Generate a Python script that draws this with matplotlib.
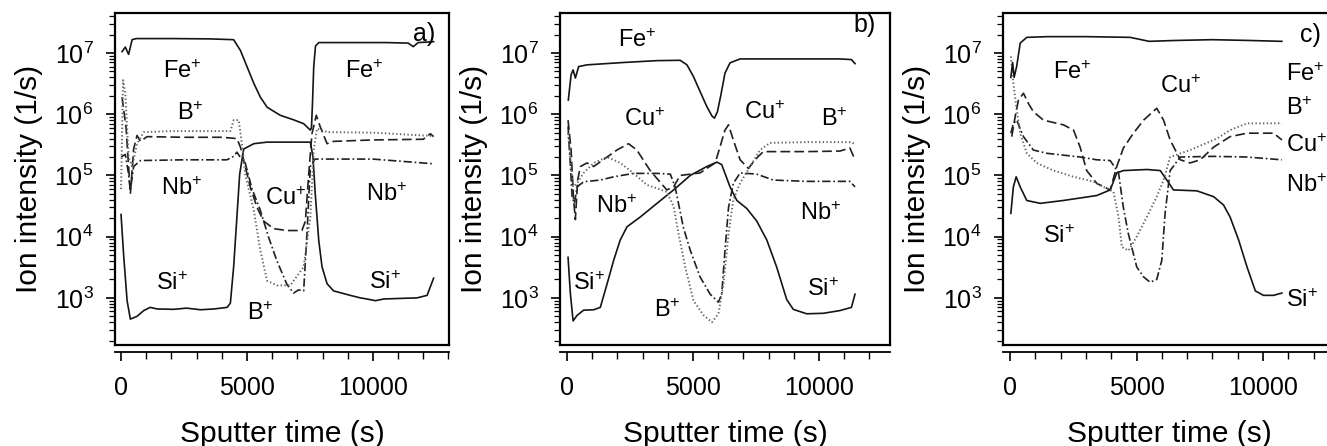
import matplotlib
matplotlib.use("Agg")
import matplotlib.pyplot as plt
from matplotlib.ticker import FixedLocator, MultipleLocator, LogLocator, NullFormatter

plt.rcParams['font.family'] = ['Liberation Sans', 'DejaVu Sans']
plt.rcParams['mathtext.fontset'] = 'custom'
plt.rcParams['mathtext.rm'] = 'Liberation Sans'
plt.rcParams['mathtext.it'] = 'Liberation Sans:italic'
plt.rcParams['mathtext.bf'] = 'Liberation Sans:bold'
plt.rcParams['mathtext.default'] = 'regular'
plt.rcParams['lines.scale_dashes'] = False

# ---- panel a) ----
a_fe_t = [40, 170, 250, 300, 440, 600, 2000, 3500, 4470, 4740, 5000, 5270, 5530, 5800, 6320, 6850, 7250,
          7515, 7560, 7600, 7650, 7720, 7850, 9000, 10500, 11400, 11600, 11800, 12410]
a_fe = [1.05e7, 1.25e7, 1.05e7, 9.5e6, 1.65e7, 1.72e7, 1.72e7, 1.70e7, 1.65e7, 1.1e7, 6e6, 3.2e6, 1.9e6,
        1.3e6, 9.6e5, 8.1e5, 7e5, 5.5e5, 6e5, 1.5e6, 6e6, 1.3e7, 1.48e7, 1.48e7, 1.48e7, 1.45e7, 1.27e7,
        1.48e7, 1.53e7]
a_b_t = [0, 80, 170, 300, 440, 635, 900, 2000, 3500, 4340, 4470, 4670, 4800, 4930, 5270, 5530, 5800, 6190,
         6720, 7250, 7515, 7650, 7780, 8200, 10000, 12410]
a_b = [6e4, 3.6e6, 2.2e6, 2e5, 1.4e5, 3.3e5, 5.1e5, 5.3e5, 5.3e5, 5.3e5, 8e5, 8e5, 3.3e5, 1.05e5, 2.7e4,
       5.9e3, 1.9e3, 1.6e3, 1.6e3, 3.2e3, 2.1e4, 2.6e5, 5.8e5, 5.1e5, 5e5, 4.4e5]
a_cu_t = [40, 200, 370, 500, 635, 770, 1030, 2500, 4000, 4600, 4740, 4930, 5130, 5400, 5660, 6060, 6590,
          7180, 7320, 7450, 7580, 7750, 7910, 8180, 8440, 10000, 12000, 12280, 12410]
a_cu = [1.9e6, 6e5, 5e4, 2.7e5, 4.5e5, 3.6e5, 4.3e5, 4.2e5, 4.2e5, 4e5, 2.9e5, 1.4e5, 6.5e4, 3e4, 1.8e4,
        1.35e4, 1.26e4, 1.26e4, 1.8e4, 1.05e5, 4.8e5, 9.6e5, 6.2e5, 3.3e5, 3.6e5, 3.8e5, 3.9e5, 4.8e5, 4.3e5]
a_nb_t = [0, 170, 300, 370, 500, 770, 2500, 4200, 4470, 4600, 4800, 4930, 5200, 5530, 5850, 6190, 6590, 6850,
          7050, 7250, 7380, 7515, 7700, 10000, 12410]
a_nb = [2e5, 2.2e5, 1.05e5, 5.7e4, 1.4e5, 1.75e5, 1.8e5, 1.8e5, 2.05e5, 2.4e5, 1.8e5, 1.6e5, 6e4, 2.7e4,
        1e4, 4e3, 1.65e3, 1.2e3, 1.35e3, 1.3e3, 1.1e4, 1.4e5, 1.85e5, 1.85e5, 1.55e5]
a_si_t = [0, 100, 240, 370, 635, 900, 1160, 1430, 2090, 2600, 3150, 3700, 4210, 4340, 4470, 4600, 4710, 4870,
          5270, 5800, 7515, 7620, 7710, 7850, 7980, 8180, 8440, 9100, 9500, 9760, 10100, 10430, 11090, 11750,
          12150, 12410]
a_si = [2.3e4, 5.2e3, 900, 450, 500, 620, 700, 660, 650, 680, 640, 660, 700, 820, 3.2e3, 2.1e4, 1.05e5, 2.7e5,
        3.3e5, 3.5e5, 3.5e5, 2e5, 5e4, 8.6e3, 3.2e3, 1.7e3, 1.3e3, 1.1e3, 1e3, 960, 900, 960, 980, 1e3,
        1.1e3, 2.1e3]

# ---- panel b) ----
b_fe_t = [50, 160, 240, 330, 460, 790, 2250, 3570, 4490, 4760, 5020, 5280, 5550, 5750, 5850, 5970, 6100, 6270,
          6470, 6870, 8190, 10830, 11290, 11430]
b_fe = [1.7e6, 4.4e6, 5.3e6, 3.9e6, 6e6, 6.4e6, 7e6, 7.5e6, 7.6e6, 6.4e6, 4.1e6, 2.35e6, 1.33e6, 9.4e5,
        8.6e5, 1.1e6, 2e6, 4.7e6, 6.9e6, 8e6, 8e6, 8e6, 7.8e6, 6.7e6]
b_b_t = [40, 130, 240, 400, 660, 1060, 1590, 2110, 2510, 3170, 3960, 4230, 4430, 4690, 5020, 5420, 5750, 6010,
         6210, 6410, 6600, 6870, 7270, 7660, 8060, 9510, 11230, 11430]
b_b = [4.9e5, 2e5, 6.5e4, 7.5e4, 1.1e5, 1.6e5, 2e5, 1.6e5, 1.2e5, 7e4, 5.4e4, 3.1e4, 1.1e4, 3.2e3, 900,
       520, 400, 550, 1.7e3, 1.1e4, 4e4, 7.5e4, 1.4e5, 2.6e5, 3.4e5, 3.5e5, 3.5e5, 3.3e5]
b_cu_t = [40, 160, 260, 330, 420, 530, 790, 1060, 1590, 1980, 2440, 2770, 3300, 3960, 4230, 4490, 5280, 5880,
          6080, 6270, 6410, 6600, 6870, 7200, 7460, 7790, 9510, 10830, 11230, 11430]
b_cu = [8e5, 2.6e5, 4e4, 1.9e4, 8.4e4, 1.4e5, 1.6e5, 1.4e5, 2e5, 2.6e5, 3.3e5, 2.6e5, 1.2e5, 5.8e4, 6.5e4,
        1e5, 1.1e5, 1.6e5, 3e5, 5.5e5, 6.7e5, 3.8e5, 1.8e5, 1.3e5, 1.8e5, 2.45e5, 2.45e5, 2.5e5, 2.8e5, 1.8e5]
b_nb_t = [40, 130, 200, 290, 400, 660, 1320, 1850, 2640, 3570, 4100, 4290, 4620, 4890, 5280, 5680, 6010, 6140,
          6270, 6410, 6600, 6870, 7530, 8190, 9510, 11230, 11430]
b_nb = [6.3e5, 1.5e5, 4.5e4, 3.5e4, 6.5e4, 7.9e4, 8.4e4, 9.5e4, 1.08e5, 1.08e5, 1.05e5, 6.5e4, 1.4e4, 6e3,
        2.2e3, 1.15e3, 850, 1.15e3, 6e3, 3e4, 7.4e4, 1.1e5, 1.05e5, 8.4e4, 8e4, 8e4, 6.5e4]
b_si_t = [40, 130, 240, 400, 660, 1060, 1320, 1590, 1850, 2110, 2380, 2910, 3570, 4230, 4890, 5550, 5950, 6140,
          6470, 6740, 7130, 7530, 7930, 8320, 8720, 8980, 9510, 10170, 10830, 11290, 11430]
b_si = [4.6e3, 1.2e3, 420, 520, 630, 640, 700, 1.7e3, 4.1e3, 8.8e3, 1.45e4, 2.1e4, 3.5e4, 5.8e4, 1e5, 1.4e5,
        1.65e5, 1.5e5, 6.5e4, 3.9e4, 2.9e4, 1.8e4, 8.8e3, 3.2e3, 940, 650, 550, 560, 620, 700, 1.15e3]

# ---- panel c) ----
c_fe_t = [30, 100, 160, 260, 400, 660, 1500, 3000, 4750, 5500, 6500, 8000, 9500, 10750]
c_fe = [4e6, 7e6, 4e6, 6e6, 1.45e7, 1.8e7, 1.85e7, 1.85e7, 1.8e7, 1.55e7, 1.6e7, 1.65e7, 1.6e7, 1.55e7]
c_b_t = [30, 130, 260, 400, 660, 1055, 1715, 2510, 3300, 3830, 4090, 4290, 4420, 4680, 5010, 5410, 5800, 6070,
         6330, 7120, 8180, 8700, 9370, 10750]
c_b = [8.8e6, 3.2e6, 1.2e6, 4.9e5, 2.3e5, 1.6e5, 1.2e5, 9.5e4, 7.9e4, 6.1e4, 5.4e4, 2.1e4, 6.8e3, 5.9e3, 1e4,
       2.1e4, 4.5e4, 8.4e4, 2e5, 2.6e5, 4e5, 5.5e5, 7.1e5, 7.1e5]
c_cu_t = [65, 200, 330, 530, 725, 920, 1320, 2110, 2510, 2770, 3030, 3430, 3960, 4220, 4480, 4880, 5280, 5800,
          6070, 6330, 6730, 7120, 7520, 8050, 8700, 9370, 10420, 10750]
c_cu = [4.3e5, 9.1e5, 1.7e6, 2.2e6, 1.5e6, 1.1e6, 8e5, 6.7e5, 5.5e5, 2.9e5, 1.2e5, 7.4e4, 5.8e4, 1.4e5, 2.8e5,
        4.9e5, 8e5, 1.25e6, 8e5, 3.8e5, 1.8e5, 1.6e5, 1.8e5, 2.9e5, 4.3e5, 4.9e5, 4.9e5, 3.8e5]
c_nb_t = [30, 130, 260, 530, 920, 1450, 2770, 3430, 3960, 4290, 4480, 4680, 5010, 5280, 5540, 5800, 6000, 6130,
          6330, 6730, 8050, 9370, 10750]
c_nb = [4.9e5, 7e5, 8e5, 4.3e5, 2.6e5, 2.3e5, 2e5, 1.8e5, 1.75e5, 1.1e5, 3e4, 1.1e4, 3.2e3, 2.2e3, 1.8e3,
        2e3, 4.1e3, 2.4e4, 1.2e5, 2e5, 2.05e5, 2e5, 1.8e5]
c_si_t = [30, 130, 240, 400, 660, 1190, 2110, 3430, 3960, 4220, 4480, 5410, 5940, 6200, 6460, 7390, 8050,
          8440, 8700, 9040, 9370, 9700, 10020, 10420, 10750]
c_si = [2.4e4, 6.5e4, 9.5e4, 6.5e4, 3.9e4, 3.5e4, 3.9e4, 4.7e4, 5.8e4, 1.1e5, 1.2e5, 1.25e5, 1.2e5, 8.4e4,
        5.8e4, 5.6e4, 4.5e4, 3.3e4, 2.1e4, 8.8e3, 3.2e3, 1.3e3, 1.1e3, 1.1e3, 1.2e3]

styles = {
    'Fe': dict(ls='-', color='#151515', lw=1.2),
    'Si': dict(ls='-', color='#151515', lw=1.2),
    'B': dict(ls=(0, (1.0, 1.7)), color='#666666', lw=1.4),
    'Cu': dict(ls=(0, (7, 3)), color='#202020', lw=1.2),
    'Nb': dict(ls=(0, (6, 2, 1.2, 2)), color='#202020', lw=1.2),
}

panels = [
    dict(name='a)', left=115, width=334, xlim=(-240, 13020),
         series={'Fe': (a_fe_t, a_fe), 'B': (a_b_t, a_b), 'Cu': (a_cu_t, a_cu),
                 'Nb': (a_nb_t, a_nb), 'Si': (a_si_t, a_si)},
         tag=(12040, 10 ** 7.31),
         labels=[('Fe', 2420, 6.69, 'center'), ('Fe', 9660, 6.69, 'center'), ('B', 2750, 6.01, 'center'),
                 ('Nb', 2420, 4.78, 'center'), ('Cu', 6520, 4.62, 'center'), ('Nb', 10560, 4.68, 'center'),
                 ('Si', 2020, 3.23, 'center'), ('Si', 10490, 3.25, 'center'), ('B', 5530, 2.74, 'center')]),
    dict(name='b)', left=560, width=330, xlim=(-280, 12820),
         series={'Fe': (b_fe_t, b_fe), 'B': (b_b_t, b_b), 'Cu': (b_cu_t, b_cu),
                 'Nb': (b_nb_t, b_nb), 'Si': (b_si_t, b_si)},
         tag=(11820, 10 ** 7.45),
         labels=[('Fe', 2770, 7.20, 'center'), ('Cu', 3065, 5.92, 'center'), ('Cu', 7860, 6.02, 'center'),
                 ('B', 10610, 5.92, 'center'), ('Nb', 1955, 4.5, 'center'), ('Nb', 10080, 4.38, 'center'),
                 ('Si', 860, 3.23, 'center'), ('Si', 10150, 3.13, 'center'), ('B', 4000, 2.80, 'center')]),
    dict(name='c)', left=1003, width=332, xlim=(-280, 12850),
         series={'Fe': (c_fe_t, c_fe), 'B': (c_b_t, c_b), 'Cu': (c_cu_t, c_cu),
                 'Nb': (c_nb_t, c_nb), 'Si': (c_si_t, c_si)},
         tag=(11870, 10 ** 7.30),
         labels=[('Fe', 2440, 6.68, 'center'), ('Cu', 6750, 6.46, 'center'), ('Si', 1940, 4.0, 'center'),
                 ('Fe', 10900, 6.64, 'left'), ('B', 10900, 6.09, 'left'), ('Cu', 10900, 5.49, 'left'),
                 ('Nb', 10900, 4.83, 'left'), ('Si', 10900, 2.96, 'left')]),
]

W, H = 1327, 446
fig = plt.figure(figsize=(W / 100, H / 100), dpi=100)

for p in panels:
    ax = fig.add_axes([p['left'] / W, 1 - 345 / H, p['width'] / W, 332 / H])
    for ion in ['Si', 'Nb', 'Cu', 'B', 'Fe']:
        t, v = p['series'][ion]
        ax.plot(t, v, **styles[ion])

    ax.set_yscale('log')
    ax.set_ylim(170, 4.5e7)
    ax.set_xlim(*p['xlim'])

    ax.yaxis.set_major_locator(FixedLocator([1e3, 1e4, 1e5, 1e6, 1e7]))
    ax.yaxis.set_minor_locator(LogLocator(base=10, subs=range(2, 10), numticks=20))
    ax.yaxis.set_minor_formatter(NullFormatter())
    ax.xaxis.set_major_locator(FixedLocator([0, 5000, 10000]))
    ax.xaxis.set_minor_locator(MultipleLocator(1000))

    for s in ['left', 'top', 'right']:
        ax.spines[s].set_linewidth(1.6)
    ax.spines['bottom'].set_position(('outward', 5))
    ax.spines['bottom'].set_linewidth(1.3)
    ax.plot([0, 1], [0, 0], transform=ax.transAxes, color='k', lw=1.6, clip_on=False,
            solid_capstyle='projecting')

    ax.tick_params(axis='y', which='major', direction='out', length=6.5, width=1.2, labelsize=18, pad=9)
    ax.tick_params(axis='y', which='minor', direction='out', length=4.5, width=0.9)
    ax.tick_params(axis='x', which='major', direction='out', length=6.5, width=1.2, labelsize=18, pad=11)
    ax.tick_params(axis='x', which='minor', direction='out', length=5, width=1.0)

    ax.set_xlabel('Sputter time (s)', fontsize=21.5, labelpad=14)
    ax.set_ylabel('Ion intensity (1/s)', fontsize=21.5, labelpad=8)

    for ion, t, lg, ha in p['labels']:
        ax.text(t, 10 ** lg, ion + '$^{+}$', fontsize=17, ha=ha, va='center')
    ax.text(p['tag'][0], p['tag'][1], p['name'], fontsize=18, ha='center', va='center')

fig.savefig('out.png', dpi=100)
